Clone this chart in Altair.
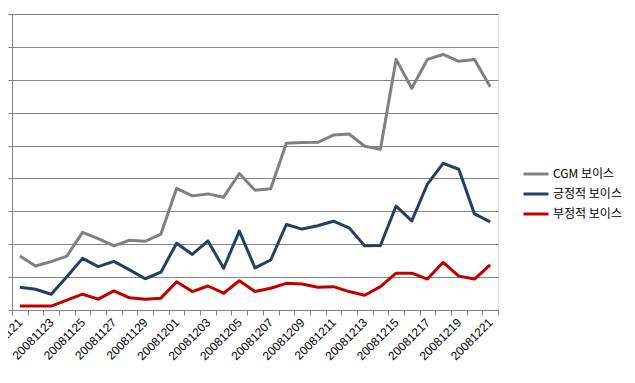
import altair as alt
import pandas as pd

dates = ["20081121", "20081122", "20081123", "20081124", "20081125", "20081126",
         "20081127", "20081128", "20081129", "20081130", "20081201", "20081202",
         "20081203", "20081204", "20081205", "20081206", "20081207", "20081208",
         "20081209", "20081210", "20081211", "20081212", "20081213", "20081214",
         "20081215", "20081216", "20081217", "20081218", "20081219", "20081220",
         "20081221"]

cgm = [164, 134, 147, 164, 236, 217, 195, 212, 209, 231, 370, 347, 353, 343,
       415, 364, 369, 507, 509, 510, 532, 535, 498, 489, 762, 674, 762, 777,
       756, 762, 679]
positive = [69, 63, 48, 101, 157, 132, 148, 122, 95, 115, 203, 169, 210, 127,
            240, 128, 152, 260, 246, 256, 270, 250, 195, 196, 316, 271, 383,
            446, 428, 292, 268]
negative = [12, 12, 12, 30, 48, 33, 58, 37, 33, 36, 86, 56, 73, 51, 89, 56,
            66, 81, 79, 69, 71, 56, 45, 71, 112, 112, 94, 145, 103, 94, 137]

series_names = ["CGM 보이스", "긍정적 보이스", "부정적 보이스"]
series_colors = ["#808080", "#243F60", "#C00000"]

df = pd.DataFrame({"date": dates, series_names[0]: cgm,
                   series_names[1]: positive, series_names[2]: negative})
long = df.melt(id_vars="date", var_name="series", value_name="value")

chart = alt.Chart(long).mark_line(strokeWidth=3, strokeJoin="round").encode(
    x=alt.X("date:N", sort=dates, title=None,
            scale=alt.Scale(paddingInner=0, paddingOuter=0),
            axis=alt.Axis(labelAngle=-45, labelAlign="right", labelBaseline="middle",
                          labelExpr="parseInt(datum.value) % 2 == 1 ? datum.label : ''",
                          tickBand="extent", tickSize=5, tickColor="#868686",
                          domainColor="#868686", labelFont="Liberation Sans",
                          labelFontSize=12, labelColor="#000000", labelPadding=5,
                          labelOverlap=False, labelBound=False, grid=False)),
    y=alt.Y("value:Q", title=None,
            scale=alt.Scale(domain=[0, 900], nice=False),
            axis=alt.Axis(values=list(range(0, 901, 100)), labels=False,
                          tickSize=4, tickColor="#868686", domainColor="#868686",
                          grid=True, gridColor="#868686", gridOpacity=1)),
    color=alt.Color("series:N", sort=series_names,
                    scale=alt.Scale(domain=series_names, range=series_colors),
                    legend=alt.Legend(title=None, orient="none", legendX=510,
                                      legendY=146, symbolType="stroke",
                                      symbolStrokeWidth=3, symbolSize=625,
                                      labelFont="Noto Sans CJK KR", labelFontSize=12,
                                      labelColor="#000000", labelOffset=3,
                                      rowPadding=0)),
    order=alt.Order("date:N")
).properties(
    width=486, height=296,
    autosize=alt.AutoSizeParams(type="none"),
    padding={"left": 4, "top": 6, "right": 129, "bottom": 60}
).configure_view(stroke=None).configure(background="#ffffff")

chart.save("out.html", embed_options={"renderer": "svg", "actions": False})
